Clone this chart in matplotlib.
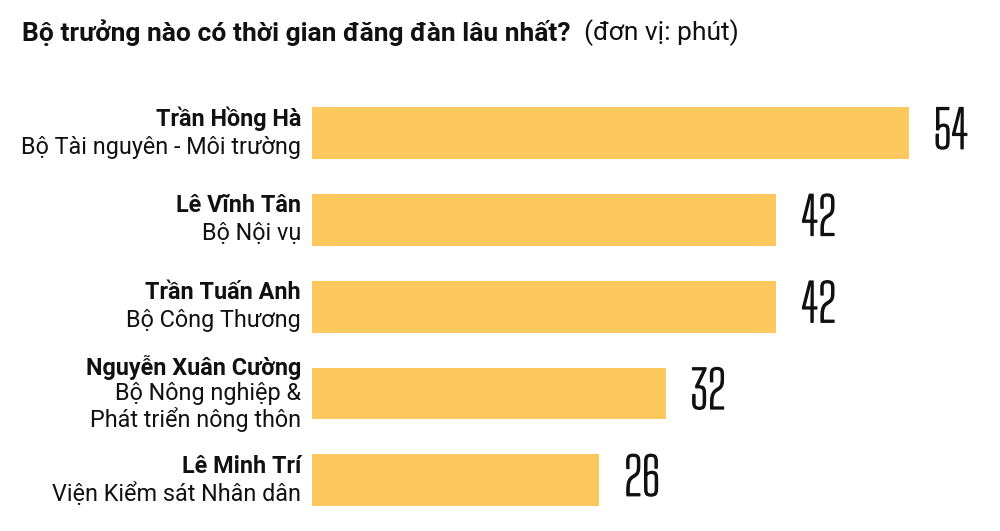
import matplotlib
matplotlib.use("Agg")
import matplotlib.pyplot as plt
import matplotlib.patheffects as pe

# du lieu
names = ["Trần Hồng Hà", "Lê Vĩnh Tân", "Trần Tuấn Anh", "Nguyễn Xuân Cường", "Lê Minh Trí"]
ministries = [
    ["Bộ Tài nguyên - Môi trường"],
    ["Bộ Nội vụ"],
    ["Bộ Công Thương"],
    ["Bộ Nông nghiệp &", "Phát triển nông thôn"],
    ["Viện Kiểm sát Nhân dân"],
]
minutes = [54, 42, 42, 32, 26]

BAR_COLOR = "#FDC85E"
TXT = "#111111"
plt.rcParams["font.family"] = ["Roboto", "DejaVu Sans"]
PX = 0.72  # 1 px = 0.72 pt o dpi 100

W, H = 1000, 531
fig = plt.figure(figsize=(W / 100, H / 100), dpi=100)
# truc: bat dau o x=312px, 11.05 px / phut
ax_left, ax_right = 312, 1000
ax = fig.add_axes([ax_left / W, 0, (ax_right - ax_left) / W, 1])
ax.set_xlim(0, (ax_right - ax_left) / 11.05)

# tam cac thanh: 133 -> 480 px
first_c, last_c = 133.2, 480.2
step = (last_c - first_c) / 4
ax.set_ylim((H - first_c) / step, -first_c / step)  # y tang xuong duoi
ax.axis("off")

ypos = list(range(len(minutes)))
ax.barh(ypos, minutes, height=51.7 / step, color=BAR_COLOR)

line_h = 28.0  # px
for y, name, mins, val in zip(ypos, names, ministries, minutes):
    lines = [(name, "bold")] + [(m, "normal") for m in mins]
    n = len(lines)
    lh = line_h if n == 2 else 26.5
    for k, (txt, wt) in enumerate(lines):
        off = -(k - (n - 1) / 2) * lh * PX
        ax.annotate(txt, xy=(0, y), xytext=(-11 * PX, off), textcoords="offset points",
                    ha="right", va="center", fontsize=16.8, fontweight=wt, color=TXT)
    ax.annotate(str(val), xy=(val, y), xytext=(25 * PX, 0), textcoords="offset points",
                ha="left", va="center", fontsize=37, color=TXT,
                family=["Big Shoulders Text", "DejaVu Sans"],
                path_effects=[pe.withStroke(linewidth=1.0, foreground=TXT)])

t = fig.text(22 / W, 1 - 41.5 / H, "Bộ trưởng nào có thời gian đăng đàn lâu nhất?",
             fontsize=19, fontweight="bold", va="baseline", ha="left", color=TXT)
ax.annotate("(đơn vị: phút)", xy=(1, 0), xycoords=t, xytext=(14 * PX, 0), textcoords="offset points",
            fontsize=19, va="bottom", ha="left", color=TXT)

fig.savefig("out.png", dpi=100)
